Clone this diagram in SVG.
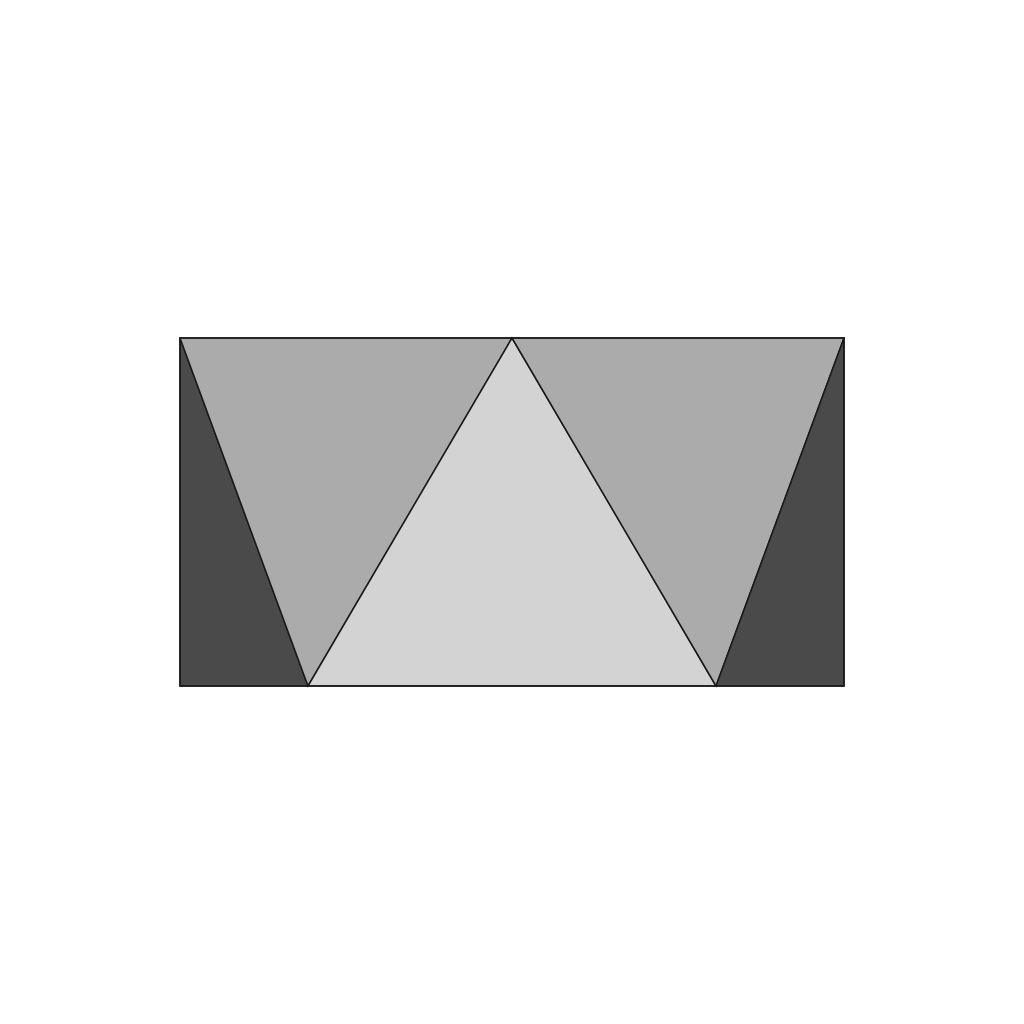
<svg xmlns="http://www.w3.org/2000/svg" width="1024" height="1024" viewBox="0 0 1024 1024">
<style>
.s{stroke:#1a1a1a;stroke-width:1.5;stroke-linejoin:miter}
.d{fill:#4a4a4a}
.m{fill:#ababab}
.l{fill:#d3d3d3}
</style>
<rect width="1024" height="1024" fill="#ffffff"/>
<g id="left-dark"><polygon class="s d" points="180,338 308,686 180,686"/></g>
<g id="left-mid"><polygon class="s m" points="180,338 512,338 308,686"/></g>
<g id="center"><polygon class="s l" points="512,338 716,686 308,686"/></g>
<g id="right-mid"><polygon class="s m" points="512,338 844,338 716,686"/></g>
<g id="right-dark"><polygon class="s d" points="844,338 844,686 716,686"/></g>
<g id="frame"><rect x="180" y="338" width="664" height="348" fill="none" class="s"/></g>
</svg>
